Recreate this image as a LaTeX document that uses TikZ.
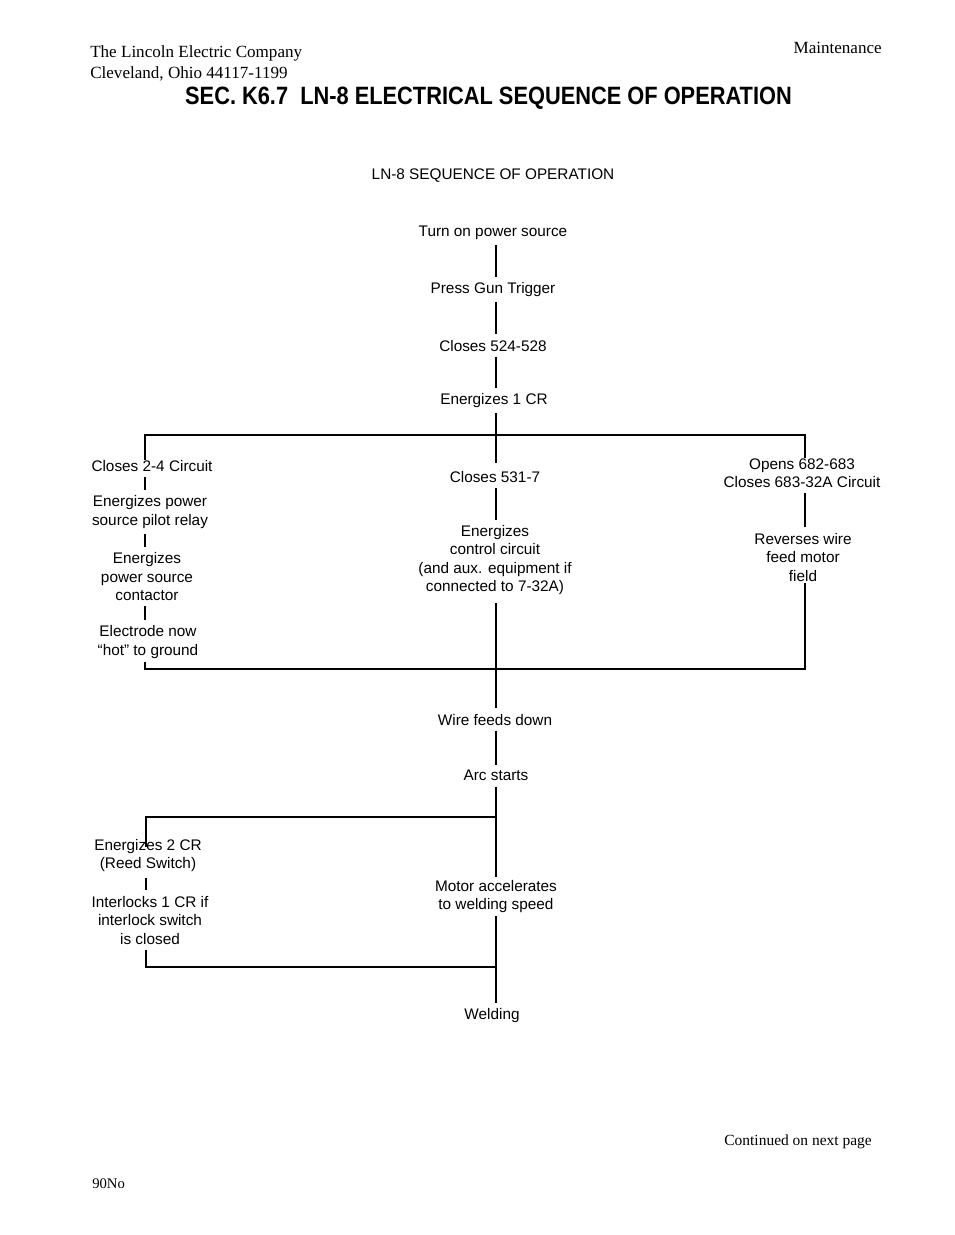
\documentclass[tikz,border=0pt]{standalone}
\usepackage{fontspec}
\setmainfont{Liberation Serif}
\newfontfamily\arialf{Liberation Sans}
\tikzset{
  box/.style={font=\arialf\fontsize{11.5}{13.9}\selectfont, inner sep=0pt, align=center, yshift=-2pt},
  hdr/.style={font=\fontsize{12.8}{15}\selectfont, inner sep=0pt},
  wire/.style={line width=1.5pt},
  seg/.style={wire, shorten <=4pt, shorten >=4pt},
}
\begin{document}
\begin{tikzpicture}[x=0.75pt,y=-0.75pt]
\fill[white] (0,0) rectangle (954,1235);
\useasboundingbox (0,0) rectangle (954,1235);
% header
\node[hdr, anchor=west] (c1) at (90,53) {The Lincoln Electric Company};
\node[hdr, anchor=west] (c2) at (90,74) {Cleveland, Ohio 44117-1199};
\node[hdr, anchor=east] (mt) at (882,48) {Maintenance};
\node[font=\arialf\bfseries\fontsize{18.8}{22}\selectfont, inner sep=0pt] (title) at (488.5,98)
  {\scalebox{0.87}[1]{SEC. K6.7\ \ LN-8 ELECTRICAL SEQUENCE OF OPERATION}};
\node[font=\fontsize{11.6}{14}\selectfont, inner sep=0pt, anchor=east] (cn) at (872,1142) {Continued on next page};
\node[font=\fontsize{11}{13}\selectfont, inner sep=0pt, anchor=west] (pg) at (92,1184) {90No};
% diagram nodes
\node[box] (seq) at (493,173) {LN-8 SEQUENCE OF OPERATION};
\node[box] (n1) at (493,230) {Turn on power source};
\node[box] (n2) at (493,287) {Press Gun Trigger};
\node[box] (n3) at (493,343) {Closes 524-528};
\node[box] (n4) at (494,398) {Energizes 1 CR};
\node[box] (L1) at (152,463) {Closes 2-4 Circuit};
\node[box] (L2) at (150,509.5) {Energizes power\\source pilot relay};
\node[box] (L3) at (147,574) {Energizes\\power source\\contactor};
\node[box] (L4) at (148,639.5) {Electrode now\\“hot” to ground};
\node[box] (M1) at (495,474) {Closes 531-7};
\node[box] (M2) at (495,557.5) {Energizes\\control circuit\\(and aux. equipment if\\connected to 7-32A)};
\node[box] (R1) at (802,470.5) {Opens 682-683\\Closes 683-32A Circuit};
\node[box] (R2) at (803,554.5) {Reverses wire\\feed motor\\field};
\node[box] (W) at (495,717) {Wire feeds down};
\node[box] (A) at (496,773) {Arc starts};
\node[box] (E1) at (148,853) {Energizes 2 CR\\(Reed Switch)};
\node[box] (E2) at (150,917.5) {Interlocks 1 CR if\\interlock switch\\is closed};
\node[box] (Mo) at (496,894) {Motor accelerates\\to welding speed};
\node[box] (We) at (492,1013) {Welding};
% coordinates
\coordinate (sp) at (496,0);
\coordinate (lx) at (145,0);
\coordinate (lx2) at (146,0);
\coordinate (rx) at (805,0);
\coordinate (t1L) at (145,435);
\coordinate (t1R) at (805,435);
\coordinate (b1L) at (145,669);
\coordinate (b1R) at (805,669);
\coordinate (t2L) at (146,817);
\coordinate (t2R) at (496,817);
\coordinate (b2L) at (146,967);
\coordinate (b2R) at (496,967);
% connectors
\draw[seg] (n1.south -| sp) -- (n2.north -| sp);
\draw[seg] (n2.south -| sp) -- (n3.north -| sp);
\draw[seg] (n3.south -| sp) -- (n4.north -| sp);
\draw[seg, shorten >=6pt] (n4.south -| sp) -- (M1.north -| sp);
\draw[wire] (L1.north -| lx) -- (t1L) -- (t1R) -- (R1.north -| rx);
\draw[seg] (L1.south -| lx) -- (L2.north -| lx);
\draw[seg] (L2.south -| lx) -- (L3.north -| lx);
\draw[seg] (L3.south -| lx) -- (L4.north -| lx);
\draw[seg] (M1.south -| sp) -- (M2.north -| sp);
\draw[seg] (R1.south -| rx) -- (R2.north -| rx);
\draw[wire, shorten <=2pt, shorten >=1pt] (L4.south -| lx) -- (b1L) -- (b1R) -- (R2.south -| rx);
\draw[seg, shorten <=6pt] (M2.south -| sp) -- (W.north -| sp);
\draw[seg] (W.south -| sp) -- (A.north -| sp);
\draw[seg, shorten >=2pt] (A.south -| sp) -- (Mo.north -| sp);
\draw[wire, shorten >=-6pt] (t2R) -- (t2L) -- (E1.north -| lx2);
\draw[seg] (E1.south -| lx2) -- (E2.north -| lx2);
\draw[wire, shorten <=4pt] (E2.south -| lx2) -- (b2L) -- (b2R);
\draw[seg, shorten <=2pt] (Mo.south -| sp) -- (We.north -| sp);
\end{tikzpicture}
\end{document}
